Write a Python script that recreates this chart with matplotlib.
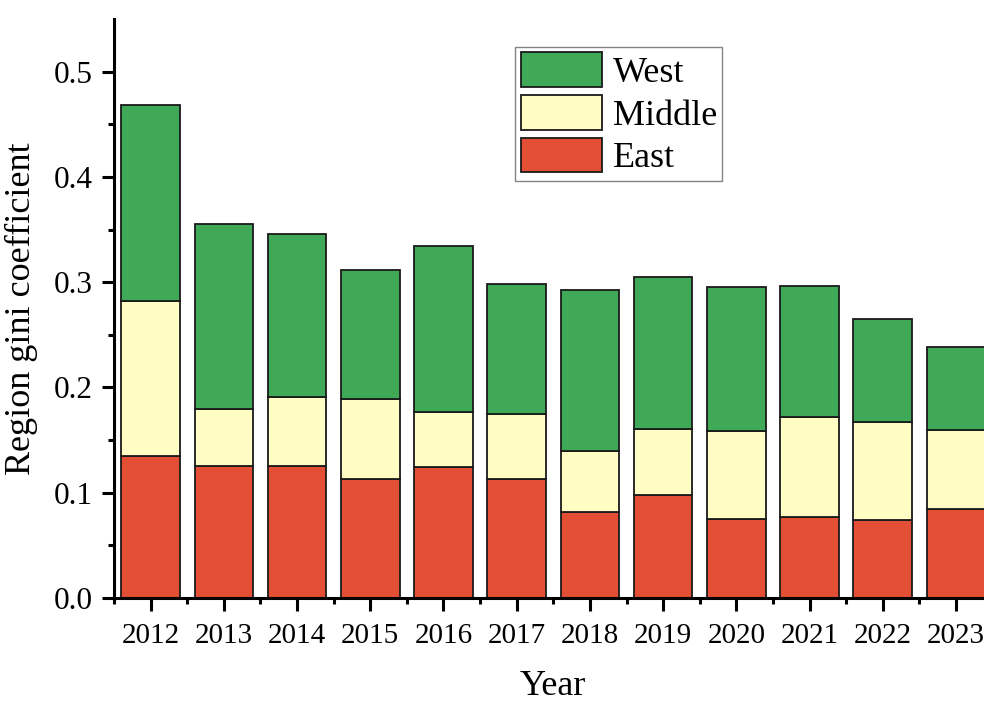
import matplotlib
matplotlib.use("Agg")
import matplotlib.pyplot as plt
import numpy as np

years = ["2012", "2013", "2014", "2015", "2016", "2017",
         "2018", "2019", "2020", "2021", "2022", "2023"]
# Contribution of each region to the overall gini coefficient
east = [0.135, 0.125, 0.125, 0.113, 0.124, 0.113, 0.082, 0.098, 0.075, 0.077, 0.074, 0.085]
middle = [0.147, 0.055, 0.066, 0.076, 0.053, 0.062, 0.058, 0.063, 0.084, 0.095, 0.093, 0.075]
west = [0.186, 0.175, 0.155, 0.123, 0.157, 0.123, 0.153, 0.144, 0.136, 0.124, 0.098, 0.078]

plt.rcParams["font.family"] = ["Liberation Serif", "DejaVu Serif"]

fig = plt.figure(figsize=(9.84, 7.02), dpi=100)
ax = fig.add_axes([0.1159, 0.1481, 0.8928, 0.8248])

x = np.arange(len(years))
e = np.array(east)
m = np.array(middle)
w = np.array(west)

c_east = "#e24f35"
c_mid = "#fffcc4"
c_west = "#3fa957"
kw = dict(width=0.8, edgecolor="#1a1a1a", linewidth=1.3)
b_e = ax.bar(x, e, color=c_east, label="East", **kw)
b_m = ax.bar(x, m, bottom=e, color=c_mid, label="Middle", **kw)
b_w = ax.bar(x, w, bottom=e + m, color=c_west, label="West", **kw)

ax.set_xlim(-0.5, 11.5)
ax.set_ylim(0, 0.55)
ax.set_xticks(x)
ax.set_xticklabels(years)
ax.set_xticks(np.arange(-0.5, 12, 1.0), minor=True)
ax.set_yticks(np.arange(0, 0.51, 0.1))
ax.set_yticklabels([f"{v:.1f}" for v in np.arange(0, 0.51, 0.1)])
ax.set_yticks(np.arange(0.05, 0.55, 0.1), minor=True)

for s in ["top", "right"]:
    ax.spines[s].set_visible(False)
for s in ["left", "bottom"]:
    ax.spines[s].set_linewidth(2.2)

ax.tick_params(axis="both", which="major", direction="out", length=9, width=2.2)
ax.tick_params(axis="both", which="minor", direction="out", length=4, width=2.2)
ax.tick_params(axis="x", which="major", labelsize=21, pad=9)
ax.tick_params(axis="y", which="major", labelsize=22.5, pad=6)

ax.set_xlabel("Year", fontsize=26, labelpad=15)
ax.set_ylabel("Region gini coefficient", fontsize=26, labelpad=12)

leg = ax.legend(handles=[b_w, b_m, b_e], loc="upper left",
                bbox_to_anchor=(0.4565, 0.9516), fontsize=26, frameon=True,
                fancybox=False, edgecolor="#666666", handlelength=2.25,
                handleheight=1.1, handletextpad=0.3, labelspacing=0.14,
                borderpad=0.15, borderaxespad=0.0)
leg.get_frame().set_linewidth(1.0)

fig.savefig("out.png", dpi=100)
